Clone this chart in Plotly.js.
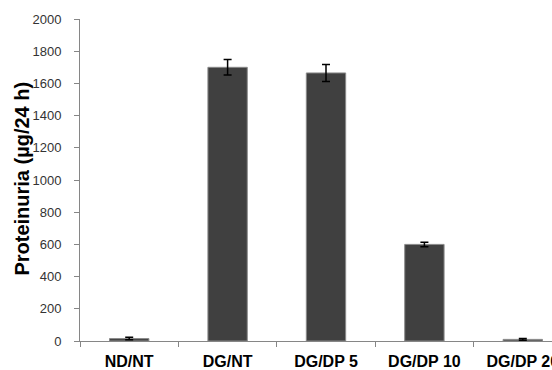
<!DOCTYPE html>
<html>
<head>
<meta charset="utf-8">
<script src="https://cdn.plot.ly/plotly-3.0.1.min.js"></script>
<style>
html,body{margin:0;padding:0;overflow:hidden;background:#fff;width:552px;height:370px;}
#chart{width:600px;height:370px;}
</style>
</head>
<body>
<div id="chart"></div>
<script>
const categories = ["ND/NT", "DG/NT", "DG/DP 5", "DG/DP 10", "DG/DP 20"];
const proteinuria = [15, 1700, 1665, 600, 10];
const errors = [8, 48, 53, 14, 6];
const yTicks = [0, 200, 400, 600, 800, 1000, 1200, 1400, 1600, 1800, 2000];
const yTitle = "Proteinuria (µg/24 h)";

const W = 600, H = 370;
const mL = 80, mR = 28.3, mT = 19, mB = 29.3;
const plotH = H - mT - mB;

const trace = {
  type: "bar",
  x: categories,
  y: proteinuria,
  width: 0.4,
  marker: {color: "#404040", line: {color: "#8a8a8a", width: 1}},
  error_y: {type: "data", array: errors, visible: true, color: "#000", thickness: 1.5, width: 4},
  hoverinfo: "none"
};

const layout = {
  width: W, height: H,
  margin: {l: mL, r: mR, t: mT, b: mB, pad: 0},
  paper_bgcolor: "#fff", plot_bgcolor: "#fff",
  showlegend: false,
  bargap: 0.6,
  xaxis: {
    type: "category",
    range: [-0.5, 4.5],
    showline: true, linecolor: "#868686", linewidth: 1,
    ticks: "outside", tickson: "boundaries", ticklen: 5, tickcolor: "#868686",
    showgrid: false, zeroline: false,
    tickfont: {family: "Liberation Sans, Arial, sans-serif", size: 16, color: "#000", weight: "bold"},
    ticklabelstandoff: 6,
    automargin: false
  },
  yaxis: {
    range: [0, 2000],
    tickvals: yTicks,
    ticktext: yTicks.map(String),
    showline: true, linecolor: "#868686", linewidth: 1,
    ticks: "outside", ticklen: 5, tickcolor: "#868686",
    showgrid: false, zeroline: false,
    tickfont: {family: "Liberation Sans, Arial, sans-serif", size: 13, color: "#333"},
    ticklabelstandoff: 10,
    automargin: false
  },
  annotations: [{
    text: "<b>" + yTitle + "</b>",
    textangle: -90,
    xref: "paper", yref: "paper",
    x: (22.5 - mL) / (W - mL - mR), y: (H - mB - 178) / plotH,
    xanchor: "center", yanchor: "middle",
    showarrow: false,
    font: {family: "Liberation Sans, Arial, sans-serif", size: 20, color: "#000"}
  }]
};

Plotly.newPlot("chart", [trace], layout, {staticPlot: true, displayModeBar: false});
</script>
</body>
</html>
